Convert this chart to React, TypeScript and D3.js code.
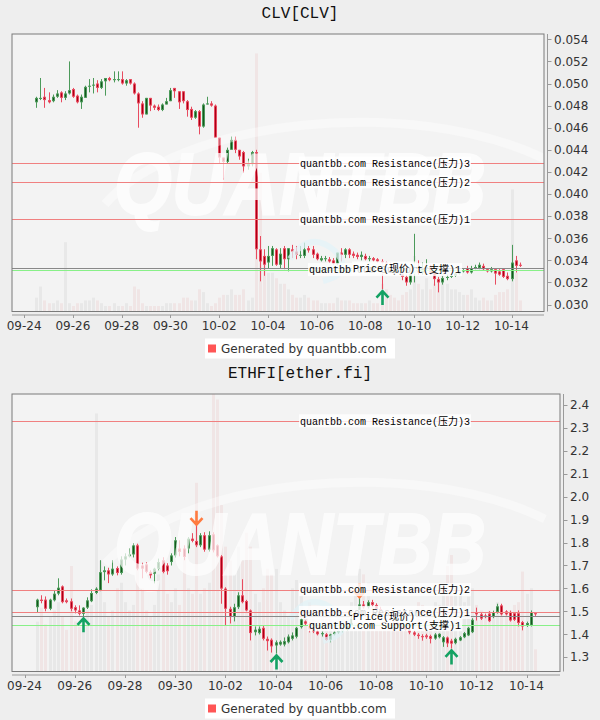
import React from 'react';
import * as d3 from 'd3';

type OHLC = [number, number, number, number];

// 4h candles, first one opens 2024-09-24 12:00
const START = new Date(2024, 8, 24, 12);
const X_DOMAIN: [Date, Date] = [new Date(2024, 8, 23, 12), new Date(2024, 9, 15, 8)];
const X_TICK_LABELS = ['09-24', '09-26', '09-28', '09-30', '10-02', '10-04', '10-06', '10-08', '10-10', '10-12', '10-14'];

const CLV_OHLC: OHLC[] = [
  [0.0483, 0.0488, 0.0478, 0.0487], [0.0486, 0.0505, 0.0485, 0.0487], [0.0488, 0.0496, 0.0478, 0.0485], [0.0485, 0.0492, 0.0482, 0.0483],
  [0.0484, 0.0490, 0.0483, 0.0488], [0.0488, 0.0494, 0.0487, 0.0491], [0.0492, 0.0493, 0.0483, 0.0487], [0.0487, 0.0493, 0.0485, 0.0491],
  [0.0491, 0.0520, 0.0490, 0.0494], [0.0495, 0.0496, 0.0487, 0.0488], [0.0489, 0.0490, 0.0482, 0.0483], [0.0483, 0.0490, 0.0477, 0.0488],
  [0.0487, 0.0498, 0.0487, 0.0497], [0.0497, 0.0504, 0.0492, 0.0498], [0.0498, 0.0505, 0.0491, 0.0499], [0.0500, 0.0503, 0.0492, 0.0496],
  [0.0496, 0.0504, 0.0495, 0.0502], [0.0502, 0.0505, 0.0489, 0.0505], [0.0505, 0.0506, 0.0502, 0.0503], [0.0503, 0.0511, 0.0501, 0.0504],
  [0.0504, 0.0511, 0.0502, 0.0504], [0.0504, 0.0511, 0.0499, 0.0500], [0.0500, 0.0504, 0.0498, 0.0503], [0.0504, 0.0504, 0.0499, 0.0500],
  [0.0500, 0.0501, 0.0490, 0.0491], [0.0491, 0.0492, 0.0460, 0.0482], [0.0482, 0.0484, 0.0469, 0.0472], [0.0472, 0.0487, 0.0472, 0.0487],
  [0.0487, 0.0487, 0.0475, 0.0480], [0.0480, 0.0481, 0.0476, 0.0478], [0.0479, 0.0481, 0.0475, 0.0476], [0.0476, 0.0482, 0.0475, 0.0481],
  [0.0481, 0.0487, 0.0481, 0.0484], [0.0484, 0.0496, 0.0484, 0.0494], [0.0496, 0.0496, 0.0487, 0.0493], [0.0493, 0.0493, 0.0477, 0.0483],
  [0.0493, 0.0493, 0.0482, 0.0484], [0.0484, 0.0485, 0.0470, 0.0476], [0.0477, 0.0479, 0.0467, 0.0469], [0.0469, 0.0476, 0.0468, 0.0475],
  [0.0475, 0.0476, 0.0454, 0.0461], [0.0461, 0.0482, 0.0460, 0.0481], [0.0481, 0.0488, 0.0481, 0.0482], [0.0482, 0.0484, 0.0479, 0.0480],
  [0.0480, 0.0481, 0.0451, 0.0451], [0.0451, 0.0451, 0.0428, 0.0433], [0.0433, 0.0433, 0.0413, 0.0429], [0.0429, 0.0442, 0.0428, 0.0440],
  [0.0440, 0.0452, 0.0440, 0.0449], [0.0449, 0.0452, 0.0437, 0.0440], [0.0440, 0.0440, 0.0431, 0.0434], [0.0438, 0.0439, 0.0419, 0.0425],
  [0.0425, 0.0432, 0.0422, 0.0427], [0.0427, 0.0439, 0.0425, 0.0438], [0.0438, 0.0440, 0.0341, 0.0350], [0.0350, 0.0362, 0.0321, 0.0339],
  [0.0344, 0.0350, 0.0326, 0.0336], [0.0338, 0.0353, 0.0333, 0.0344], [0.0344, 0.0353, 0.0335, 0.0351], [0.0350, 0.0351, 0.0335, 0.0336],
  [0.0336, 0.0351, 0.0333, 0.0346], [0.0351, 0.0353, 0.0332, 0.0341], [0.0341, 0.0351, 0.0330, 0.0351], [0.0350, 0.0354, 0.0342, 0.0348],
  [0.0348, 0.0353, 0.0341, 0.0345], [0.0345, 0.0353, 0.0342, 0.0345], [0.0344, 0.0356, 0.0342, 0.0350], [0.0351, 0.0353, 0.0347, 0.0349],
  [0.0350, 0.0353, 0.0342, 0.0345], [0.0346, 0.0347, 0.0340, 0.0341], [0.0340, 0.0344, 0.0339, 0.0342], [0.0341, 0.0344, 0.0339, 0.0342],
  [0.0341, 0.0343, 0.0338, 0.0339], [0.0340, 0.0342, 0.0336, 0.0337], [0.0337, 0.0347, 0.0336, 0.0347], [0.0347, 0.0351, 0.0339, 0.0345],
  [0.0345, 0.0351, 0.0342, 0.0350], [0.0350, 0.0351, 0.0342, 0.0345], [0.0346, 0.0348, 0.0342, 0.0344], [0.0345, 0.0347, 0.0341, 0.0343],
  [0.0343, 0.0348, 0.0340, 0.0345], [0.0344, 0.0346, 0.0340, 0.0341], [0.0341, 0.0344, 0.0339, 0.0342], [0.0342, 0.0343, 0.0339, 0.0340],
  [0.0341, 0.0342, 0.0338, 0.0339], [0.0339, 0.0341, 0.0314, 0.0338], [0.0338, 0.0339, 0.0334, 0.0336], [0.0336, 0.0338, 0.0332, 0.0334],
  [0.0334, 0.0336, 0.0331, 0.0333], [0.0333, 0.0335, 0.0328, 0.0330], [0.0330, 0.0332, 0.0322, 0.0325], [0.0325, 0.0327, 0.0317, 0.0320],
  [0.0320, 0.0331, 0.0318, 0.0328], [0.0328, 0.0364, 0.0320, 0.0331], [0.0331, 0.0340, 0.0327, 0.0329], [0.0329, 0.0338, 0.0327, 0.0333],
  [0.0333, 0.0341, 0.0330, 0.0334], [0.0334, 0.0336, 0.0327, 0.0329], [0.0329, 0.0331, 0.0317, 0.0323], [0.0323, 0.0325, 0.0311, 0.0320],
  [0.0320, 0.0326, 0.0318, 0.0324], [0.0324, 0.0327, 0.0322, 0.0325], [0.0325, 0.0328, 0.0324, 0.0326], [0.0326, 0.0329, 0.0325, 0.0328],
  [0.0328, 0.0331, 0.0327, 0.0330], [0.0330, 0.0332, 0.0329, 0.0331], [0.0333, 0.0335, 0.0328, 0.0329], [0.0329, 0.0335, 0.0328, 0.0333],
  [0.0333, 0.0336, 0.0332, 0.0334], [0.0333, 0.0338, 0.0332, 0.0336], [0.0335, 0.0337, 0.0331, 0.0332], [0.0332, 0.0333, 0.0329, 0.0330],
  [0.0330, 0.0334, 0.0329, 0.0332], [0.0332, 0.0332, 0.0318, 0.0328], [0.0330, 0.0332, 0.0326, 0.0327], [0.0332, 0.0333, 0.0324, 0.0325],
  [0.0326, 0.0329, 0.0322, 0.0323], [0.0323, 0.0354, 0.0321, 0.0338], [0.0340, 0.0344, 0.0329, 0.0335], [0.0336, 0.0338, 0.0334, 0.0335],
];

// volume, in % of the plot height
const CLV_VOLUME = [
  5, 9, 4, 3, 3, 4, 3, 25, 3, 2, 3, 3, 4, 4, 5, 4, 3, 2, 2, 3, 2, 2, 3, 2,
  9, 8, 3, 2, 2, 2, 2, 2, 3, 3, 3, 3, 5, 5, 4, 4, 8, 7, 3, 2, 3, 5, 6, 6,
  8, 6, 6, 8, 4, 5, 93, 50, 20, 14, 14, 12, 10, 10, 8, 6, 5, 5, 6, 5, 4, 4, 3, 3,
  3, 3, 5, 4, 4, 4, 3, 3, 3, 3, 4, 3, 3, 10, 8, 6, 5, 4, 6, 7, 8, 20, 10, 8,
  12, 8, 10, 12, 14, 10, 8, 8, 7, 6, 6, 8, 5, 4, 5, 4, 4, 6, 7, 7, 8, 44, 14, 4,
];

const CLV_Y_DOMAIN: [number, number] = [0.02937, 0.05448];
const CLV_Y_TICKS = [0.030, 0.032, 0.034, 0.036, 0.038, 0.040, 0.042, 0.044, 0.046, 0.048, 0.050, 0.052, 0.054];

const CLV_LEVELS = [
  { kind: 'resistance', label: 'quantbb.com Resistance(压力)3', value: 0.0428 },
  { kind: 'resistance', label: 'quantbb.com Resistance(压力)2', value: 0.0411 },
  { kind: 'resistance', label: 'quantbb.com Resistance(压力)1', value: 0.03774 },
  { kind: 'support', label: 'quantbb.com Support(支撑)1', value: 0.03316 },
  { kind: 'price', label: 'Price(现价)', value: 0.03331 },
];

const CLV_SIGNALS = [{ index: 85, dir: 'up' }];

const ETHFI_OHLC: OHLC[] = [
  [1.518, 1.555, 1.497, 1.551], [1.551, 1.570, 1.535, 1.545], [1.551, 1.565, 1.500, 1.511], [1.511, 1.555, 1.505, 1.551],
  [1.548, 1.591, 1.543, 1.577], [1.577, 1.644, 1.570, 1.603], [1.609, 1.613, 1.535, 1.540], [1.548, 1.556, 1.535, 1.540],
  [1.544, 1.556, 1.500, 1.511], [1.518, 1.526, 1.491, 1.504], [1.504, 1.526, 1.482, 1.489], [1.489, 1.518, 1.478, 1.516],
  [1.516, 1.561, 1.510, 1.548], [1.544, 1.596, 1.540, 1.580], [1.580, 1.605, 1.575, 1.599], [1.591, 1.723, 1.588, 1.671],
  [1.671, 1.696, 1.635, 1.679], [1.679, 1.690, 1.623, 1.661], [1.661, 1.723, 1.655, 1.686], [1.689, 1.696, 1.657, 1.667],
  [1.667, 1.740, 1.660, 1.726], [1.726, 1.753, 1.700, 1.740], [1.740, 1.775, 1.735, 1.748], [1.748, 1.798, 1.735, 1.788],
  [1.788, 1.795, 1.679, 1.686], [1.700, 1.712, 1.644, 1.686], [1.705, 1.714, 1.666, 1.672], [1.672, 1.679, 1.644, 1.657],
  [1.664, 1.690, 1.622, 1.686], [1.686, 1.730, 1.679, 1.715], [1.723, 1.736, 1.666, 1.672], [1.700, 1.710, 1.660, 1.675],
  [1.715, 1.753, 1.700, 1.744], [1.744, 1.824, 1.735, 1.810], [1.774, 1.810, 1.740, 1.759], [1.774, 1.788, 1.723, 1.737],
  [1.774, 1.824, 1.753, 1.817], [1.817, 1.841, 1.801, 1.807], [1.807, 1.876, 1.780, 1.788], [1.788, 1.841, 1.780, 1.832],
  [1.832, 1.845, 1.760, 1.769], [1.769, 1.849, 1.760, 1.832], [1.836, 1.845, 1.757, 1.766], [1.788, 1.792, 1.735, 1.740],
  [1.740, 1.745, 1.533, 1.599], [1.599, 1.605, 1.438, 1.511], [1.511, 1.520, 1.447, 1.475], [1.475, 1.533, 1.456, 1.518],
  [1.518, 1.583, 1.510, 1.570], [1.570, 1.640, 1.535, 1.540], [1.545, 1.550, 1.500, 1.504], [1.504, 1.508, 1.373, 1.405],
  [1.409, 1.434, 1.395, 1.420], [1.405, 1.434, 1.399, 1.424], [1.428, 1.438, 1.373, 1.380], [1.380, 1.390, 1.329, 1.370],
  [1.376, 1.382, 1.320, 1.347], [1.351, 1.373, 1.316, 1.365], [1.355, 1.373, 1.350, 1.367], [1.355, 1.386, 1.347, 1.370],
  [1.365, 1.399, 1.360, 1.390], [1.380, 1.408, 1.373, 1.395], [1.389, 1.432, 1.382, 1.428], [1.431, 1.470, 1.425, 1.465],
  [1.456, 1.460, 1.438, 1.446], [1.443, 1.452, 1.408, 1.421], [1.421, 1.430, 1.405, 1.412], [1.412, 1.420, 1.395, 1.400],
  [1.400, 1.412, 1.390, 1.405], [1.400, 1.405, 1.372, 1.375], [1.376, 1.402, 1.365, 1.399], [1.400, 1.412, 1.395, 1.408],
  [1.408, 1.418, 1.402, 1.414], [1.414, 1.428, 1.408, 1.420], [1.420, 1.445, 1.415, 1.440], [1.440, 1.475, 1.435, 1.470],
  [1.470, 1.505, 1.465, 1.500], [1.500, 1.560, 1.495, 1.530], [1.530, 1.545, 1.512, 1.518], [1.518, 1.548, 1.512, 1.540],
  [1.540, 1.550, 1.520, 1.528], [1.528, 1.535, 1.505, 1.510], [1.510, 1.520, 1.485, 1.492], [1.492, 1.500, 1.470, 1.478],
  [1.478, 1.488, 1.460, 1.465], [1.465, 1.475, 1.445, 1.452], [1.452, 1.462, 1.435, 1.440], [1.440, 1.450, 1.425, 1.432],
  [1.432, 1.442, 1.415, 1.420], [1.420, 1.430, 1.400, 1.408], [1.408, 1.415, 1.392, 1.398], [1.398, 1.405, 1.380, 1.392],
  [1.392, 1.400, 1.372, 1.387], [1.395, 1.402, 1.380, 1.387], [1.392, 1.398, 1.360, 1.380], [1.381, 1.405, 1.376, 1.399],
  [1.387, 1.404, 1.382, 1.402], [1.365, 1.392, 1.345, 1.387], [1.386, 1.390, 1.344, 1.360], [1.372, 1.380, 1.338, 1.359],
  [1.361, 1.385, 1.356, 1.380], [1.373, 1.392, 1.370, 1.387], [1.387, 1.410, 1.383, 1.405], [1.395, 1.432, 1.392, 1.428],
  [1.409, 1.470, 1.405, 1.463], [1.497, 1.516, 1.460, 1.487], [1.487, 1.495, 1.462, 1.468], [1.482, 1.490, 1.470, 1.475],
  [1.490, 1.501, 1.453, 1.457], [1.475, 1.503, 1.470, 1.497], [1.497, 1.533, 1.490, 1.522], [1.526, 1.533, 1.482, 1.487],
  [1.500, 1.505, 1.482, 1.487], [1.497, 1.503, 1.455, 1.460], [1.492, 1.497, 1.458, 1.463], [1.492, 1.504, 1.434, 1.449],
  [1.453, 1.458, 1.417, 1.434], [1.438, 1.455, 1.432, 1.449], [1.438, 1.504, 1.434, 1.497], [1.492, 1.497, 1.480, 1.487],
];

const ETHFI_VOLUME = [
  18, 23, 17, 20, 22, 25, 20, 15, 38, 18, 16, 15, 22, 24, 93, 40, 25, 20, 22, 30, 32, 25, 22, 24,
  46, 30, 22, 20, 24, 35, 38, 28, 25, 30, 24, 41, 30, 28, 68, 28, 30, 32, 100, 98, 60, 45, 40, 35,
  45, 40, 50, 45, 28, 25, 30, 37, 35, 37, 25, 22, 20, 30, 33, 28, 22, 25, 20, 18, 20, 22, 20, 18,
  18, 20, 22, 25, 30, 37, 35, 32, 25, 20, 18, 18, 17, 16, 15, 16, 18, 20, 22, 25, 24, 20, 22, 25,
  24, 30, 38, 42, 30, 28, 25, 27, 30, 24, 22, 20, 22, 20, 25, 23, 21, 22, 24, 25, 36, 28, 30, 8,
];

const ETHFI_Y_DOMAIN: [number, number] = [1.2375, 2.448];
const ETHFI_Y_TICKS = [1.3, 1.4, 1.5, 1.6, 1.7, 1.8, 1.9, 2.0, 2.1, 2.2, 2.3, 2.4];

const ETHFI_LEVELS = [
  { kind: 'resistance', label: 'quantbb.com Resistance(压力)3', value: 2.331 },
  { kind: 'resistance', label: 'quantbb.com Resistance(压力)2', value: 1.5946 },
  { kind: 'resistance', label: 'quantbb.com Resistance(压力)1', value: 1.4954 },
  { kind: 'support', label: 'quantbb.com Support(支撑)1', value: 1.4416 },
  { kind: 'price', label: 'Price(现价)', value: 1.478 },
];

const ETHFI_SIGNALS = [
  { index: 11, dir: 'up' },
  { index: 38, dir: 'down' },
  { index: 57, dir: 'up' },
  { index: 77, dir: 'down' },
  { index: 99, dir: 'up' },
];

const SANS = 'DejaVu Sans, Verdana, sans-serif';
const MONO = "'Liberation Mono', 'Noto Sans CJK SC', monospace";
const LEVEL_COLOR: Record<string, string> = { resistance: '#f08080', support: '#88f088', price: '#888888' };
const LABEL_X: Record<string, number> = { resistance: 300, support: 309, price: 353 };

const labelWidth = (s: string) =>
  Array.from(s).reduce((w, ch) => w + (/[\u3000-\u9fff]/.test(ch) ? 10 : 6), 0);

interface PanelProps {
  title: string;
  data: OHLC[];
  volume: number[];
  yDomain: [number, number];
  yTicks: number[];
  yFormat: (v: number) => string;
  levels: { kind: string; label: string; value: number }[];
  signals: { index: number; dir: string }[];
  offsetY: number;
  plotRight: number;
  id: string;
}

const Panel: React.FC<PanelProps> = ({ title, data, volume, yDomain, yTicks, yFormat, levels, signals, offsetY, plotRight, id }) => {
  const left = 12;
  const top = offsetY + 34;
  const bottom = offsetY + 311.5;

  const x = d3.scaleTime().domain(X_DOMAIN).range([left, plotRight]);
  const y = d3.scaleLinear().domain(yDomain).range([bottom, top]);
  const yVol = d3.scaleLinear().domain([0, 100]).range([bottom, top]);
  const cx = (i: number) => Math.round(x(d3.timeHour.offset(START, 4 * i))) + 0.5;

  const xTicks = X_TICK_LABELS.map(s => {
    const [m, d] = s.split('-').map(Number);
    return { label: s, date: new Date(2024, m - 1, d) };
  });

  const axisY = bottom + 3.5;
  const legendY = bottom + 37;
  const wmX = 300;
  const wmY = offsetY + 214;

  return (
    <g>
      <text x={300} y={top - 16} textAnchor="middle" fontFamily={MONO} fontSize={16} fill="#111">{title}</text>

      <clipPath id={id}>
        <rect x={left} y={top} width={plotRight - left} height={bottom - top} />
      </clipPath>
      <rect x={left} y={top} width={plotRight - left} height={bottom - top} fill="#f3f3f3" />

      <g clipPath={`url(#${id})`}>
        {/* volume */}
        {volume.map((v, i) => {
          const up = data[i][3] >= data[i][0];
          return (
            <rect key={`v${i}`} x={cx(i) - 1.5} y={yVol(v)} width={3} height={bottom - yVol(v)}
              fill={up ? 'rgba(0,0,0,0.045)' : 'rgba(215,60,60,0.07)'} />
          );
        })}
        {/* candles */}
        {data.map(([o, h, l, c], i) => {
          const up = c >= o;
          const xc = cx(i);
          const yTop = y(Math.max(o, c));
          const bh = Math.max(1, Math.abs(y(o) - y(c)));
          const edge = up ? '#4c9a5a' : '#e84c60';
          const core = up ? '#17561f' : '#a80016';
          return (
            <g key={`c${i}`}>
              <line x1={xc} x2={xc} y1={y(h)} y2={y(l)} stroke={edge} strokeWidth={1} />
              <rect x={xc - 1.5} y={yTop} width={3} height={bh} fill={edge} />
              {bh > 2 && <rect x={xc - 0.5} y={yTop + 1} width={1} height={bh - 2} fill={core} />}
            </g>
          );
        })}
        {/* watermark */}
        <g opacity={0.72}>
          <path d={`M ${wmX - 195} ${wmY - 10} C ${wmX - 120} ${wmY - 95}, ${wmX + 110} ${wmY - 120}, ${wmX + 245} ${wmY - 55}`}
            fill="none" stroke="#ffffff" strokeWidth={9} opacity={0.55} />
          <text x={wmX} y={wmY} textAnchor="middle" fontFamily="'Liberation Sans', Arial, sans-serif"
            fontWeight="bold" fontStyle="italic" fontSize={88} textLength={372} lengthAdjust="spacingAndGlyphs"
            fill="#ffffff" stroke="#ffffff" strokeWidth={2}>QUANTBB</text>
          <path d={`M ${wmX - 10} ${wmY + 45} q 20 -30 45 -8 q 20 22 -12 30`} fill="none" stroke="#e2f3f8" strokeWidth={6} />
        </g>
        {/* level lines */}
        {levels.map(lv => (
          <line key={`l${lv.label}`} x1={left} x2={plotRight} y1={Math.round(y(lv.value)) + 0.5} y2={Math.round(y(lv.value)) + 0.5}
            stroke={LEVEL_COLOR[lv.kind]} strokeWidth={1} />
        ))}
        {/* signal arrows */}
        {signals.map(s => {
          const [, h, l] = data[s.index];
          const xc = cx(s.index);
          if (s.dir === 'up') {
            const ty = y(l) + 2;
            return (
              <path key={`s${s.index}`} d={`M ${xc - 6} ${ty + 6.5} L ${xc} ${ty} L ${xc + 6} ${ty + 6.5} M ${xc} ${ty} L ${xc} ${ty + 14}`}
                fill="none" stroke="#14a263" strokeWidth={2.6} />
            );
          }
          const ty = y(h) - 0.5;
          return (
            <path key={`s${s.index}`} d={`M ${xc - 6} ${ty - 6.5} L ${xc} ${ty} L ${xc + 6} ${ty - 6.5} M ${xc} ${ty} L ${xc} ${ty - 14}`}
              fill="none" stroke="#ff7b40" strokeWidth={2.6} />
          );
        })}
        {/* level labels */}
        {levels.map(lv => {
          const lx = LABEL_X[lv.kind];
          const ly = y(lv.value);
          return (
            <g key={`t${lv.label}`}>
              <rect x={lx - 1} y={ly - 6.5} width={labelWidth(lv.label) + 2} height={13} fill="#ffffff" opacity={0.82} />
              <text x={lx} y={ly + 3.8} fontFamily={MONO} fontSize={10} fill="#000">{lv.label}</text>
            </g>
          );
        })}
      </g>

      <rect x={left} y={top} width={plotRight - left} height={bottom - top} fill="none" stroke="#7a7a7a" strokeWidth={1} />

      {/* x axis */}
      <line x1={left} x2={plotRight} y1={axisY} y2={axisY} stroke="#9a9a9a" />
      {xTicks.map(t => (
        <g key={t.label}>
          <line x1={Math.round(x(t.date)) + 0.5} x2={Math.round(x(t.date)) + 0.5} y1={axisY} y2={axisY + 3} stroke="#9a9a9a" />
          <text x={x(t.date)} y={bottom + 18.5} textAnchor="middle" fontFamily={SANS} fontSize={12} fill="#333">{t.label}</text>
        </g>
      ))}

      {/* y axis on the right */}
      <line x1={plotRight + 3.5} x2={plotRight + 3.5} y1={top} y2={bottom} stroke="#9a9a9a" />
      {yTicks.map(v => (
        <g key={`y${v}`}>
          <line x1={plotRight + 3.5} x2={plotRight + 7.5} y1={Math.round(y(v)) + 0.5} y2={Math.round(y(v)) + 0.5} stroke="#9a9a9a" />
          <text x={plotRight + 10} y={y(v) + 4.3} fontFamily={SANS} fontSize={12} fill="#333">{yFormat(v)}</text>
        </g>
      ))}

      {/* legend */}
      <rect x={205} y={legendY - 10} width={190} height={20} fill="#ffffff" />
      <rect x={208} y={legendY - 4} width={8} height={8} fill="#ff5555" />
      <text x={221} y={legendY + 4.5} fontFamily={SANS} fontSize={12} fill="#333">Generated by quantbb.com</text>
    </g>
  );
};

const App: React.FC = () => (
  <svg width={600} height={720} style={{ position: 'absolute', left: 0, top: 0, display: 'block' }}>
    <rect x={0} y={0} width={600} height={720} fill="#eeeeee" />
    <Panel id="clip-clv" title="CLV[CLV]" data={CLV_OHLC} volume={CLV_VOLUME} yDomain={CLV_Y_DOMAIN}
      yTicks={CLV_Y_TICKS} yFormat={d3.format('.3f')} levels={CLV_LEVELS} signals={CLV_SIGNALS}
      offsetY={0} plotRight={544} />
    <Panel id="clip-ethfi" title="ETHFI[ether.fi]" data={ETHFI_OHLC} volume={ETHFI_VOLUME} yDomain={ETHFI_Y_DOMAIN}
      yTicks={ETHFI_Y_TICKS} yFormat={d3.format('.1f')} levels={ETHFI_LEVELS} signals={ETHFI_SIGNALS}
      offsetY={360} plotRight={560} />
  </svg>
);

export default App;
